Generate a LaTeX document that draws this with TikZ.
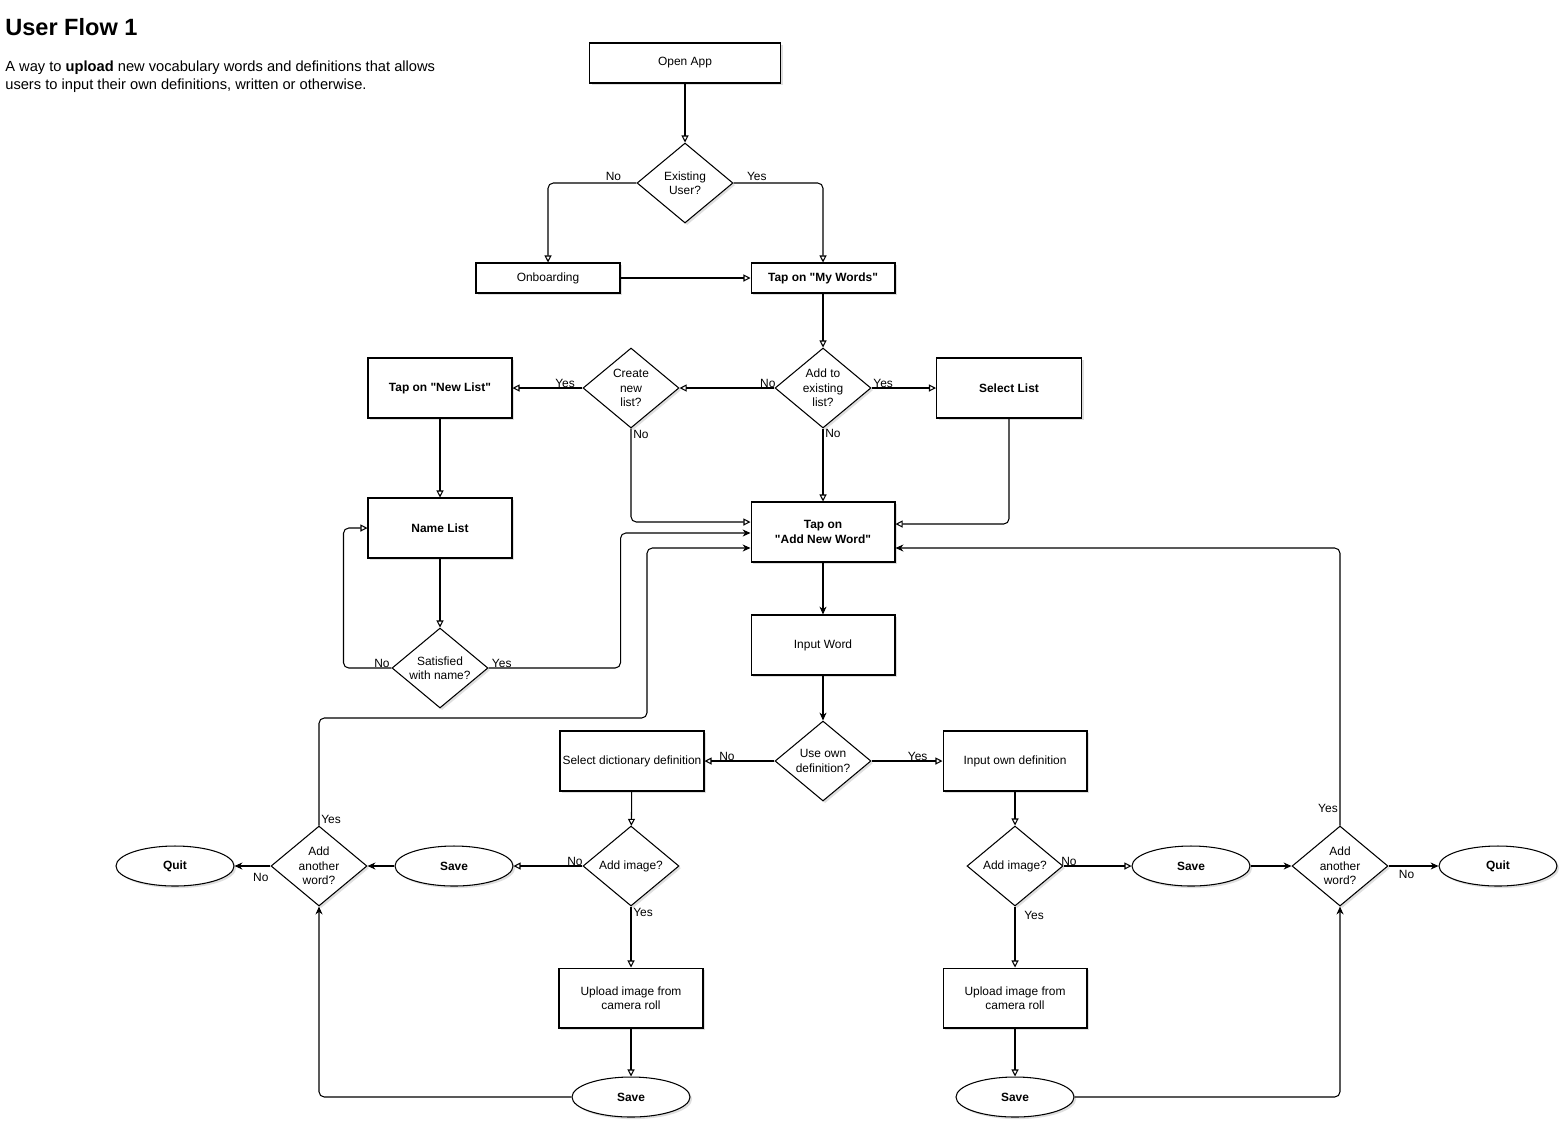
\documentclass[tikz,border=0pt]{standalone}
\usepackage{fontspec}
\setmainfont{Liberation Sans}[Ligatures=TeXOff]
\usetikzlibrary{arrows.meta, shapes.geometric, shadows, calc}

\newcommand{\nodefont}{\fontsize{6.8}{8.2}\selectfont}

\begin{document}
\begin{tikzpicture}[
  x=0.02cm, y=-0.02cm,
  shadowed/.style={drop shadow={shadow xshift=1.2pt, shadow yshift=-1.2pt, opacity=0.25}},
  box/.style={draw, line width=0.6pt, fill=white, shadowed, minimum width=2.88cm, minimum height=1.2cm, inner sep=1pt, align=center, font=\nodefont},
  bold box/.style={box, font=\nodefont\bfseries},
  thin box/.style={box, minimum height=0.6cm},
  dec/.style={draw, diamond, aspect=1.2, line width=0.6pt, fill=white, shadowed, minimum width=1.92cm, minimum height=1.6cm, inner sep=0pt, align=center, font=\nodefont},
  term/.style={draw, ellipse, line width=0.6pt, fill=white, shadowed, minimum width=2.36cm, minimum height=0.8cm, font=\nodefont\bfseries},
  lbl/.style={font=\nodefont, inner sep=1pt},
  arr/.style={draw, line width=0.6pt, rounded corners=3pt, -{Triangle[open, length=4pt, width=4pt]}},
  arrf/.style={draw, line width=0.6pt, rounded corners=3pt, -{Stealth[length=4.5pt, width=4pt]}}
]
\fill[white] (0,0) rectangle (1567,1130);
\useasboundingbox (0,0) rectangle (1567,1130);

% heading
\node[anchor=north west, inner sep=0pt, font=\fontsize{13.4}{16}\selectfont\bfseries] (title) at (5,18) {User Flow 1};
\node[anchor=north west, inner sep=0pt, align=left, font=\fontsize{8.35}{10.2}\selectfont] (intro) at (5,61)
  {A way to \textbf{upload} new vocabulary words and definitions that allows\\users to input their own definitions, written or otherwise.};

% top part
\node[box, minimum width=3.82cm, minimum height=0.8cm] (open) at (685,63) {Open App};
\node[dec] (exist) at (685,183) {Existing\\User?};
\node[thin box] (onboard) at (548,278) {Onboarding};
\node[thin box, font=\nodefont\bfseries] (mywords) at (823,278) {Tap on "My Words"};
\node[dec] (addto) at (823,388) {Add to\\existing\\list?};
\node[dec] (create) at (631,388) {Create\\new\\list?};
\node[bold box] (newlist) at (440,388) {Tap on "New List"};
\node[bold box, minimum width=2.9cm] (selectlist) at (1009,388) {Select List};
\node[bold box] (namelist) at (440,528) {Name List};
\node[dec] (satisfied) at (440,668) {Satisfied\\with name?};
\node[bold box] (addword) at (823,532) {Tap on\\"Add New Word"};
\node[box] (inputword) at (823,645) {Input Word};
\node[dec] (useown) at (823,761) {Use own\\definition?};
\node[box] (selectdict) at (632,761) {Select dictionary definition};
\node[box] (inputown) at (1015,761) {Input own definition};

% bottom part
\node[dec] (imgleft) at (631,866) {Add image?};
\node[dec] (imgright) at (1015,866) {Add image?};
\node[term] (saveleft) at (454,866) {Save};
\node[term] (saveright) at (1191,866) {Save};
\node[dec] (moreleft) at (319,866) {Add\\another\\word?};
\node[dec] (moreright) at (1340,866) {Add\\another\\word?};
\node[term] (quitleft) at (175,866) {Quit};
\node[term] (quitright) at (1498,866) {Quit};
\node[box] (uploadleft) at (631,998) {Upload image from\\camera roll};
\node[box] (uploadright) at (1015,998) {Upload image from\\camera roll};
\node[term] (storeleft) at (631,1097) {Save};
\node[term] (storeright) at (1015,1097) {Save};
\coordinate (loopleft) at (647,718);

\draw[arr] (open) -- (exist);
\draw[arr] (exist.west) -| node[lbl, pos=0.13, above] {No} (onboard.north);
\draw[arr] (exist.east) -| node[lbl, pos=0.13, above] {Yes} (mywords.north);
\draw[arr] (onboard) -- (mywords);
\draw[arr] (mywords) -- (addto);
\draw[arr] (addto.west) -- node[lbl, pos=0.07, above=-1pt] {No} (create.east);
\draw[arr] (addto.east) -- node[lbl, pos=0.18, above=-1pt] {Yes} (selectlist.west);
\draw[arr] (addto.south) -- node[lbl, pos=0.07, right] {No} (addword.north);
\draw[arr] (create.west) -- node[lbl, pos=0.25, above=-1pt] {Yes} (newlist.east);
\draw[arr] (create.south) |- node[lbl, pos=0.03, right] {No} ($(addword.west)+(0,-10)$);
\draw[arr] (selectlist.south) |- ($(addword.east)+(0,-8)$);
\draw[arr] (newlist) -- (namelist);
\draw[arr] (namelist) -- (satisfied);
\draw[arr] (satisfied.west) -- node[lbl, pos=0.2, above=-1pt] {No} ++(-48,0) |- (namelist.west);
\draw[arrf] (satisfied.east) -- node[lbl, pos=0.1, above=-1pt] {Yes} ++(132,0) |- ($(addword.west)+(0,1)$);
\draw[arrf] (moreleft.north) |- node[lbl, pos=0.03, right] {Yes} (loopleft) |- ($(addword.west)+(0,16)$);
\draw[arrf] (moreright.north) |- node[lbl, pos=0.03, left] {Yes} ($(addword.east)+(0,16)$);
\draw[arrf] (addword) -- (inputword);
\draw[arrf] (inputword) -- (useown);
\draw[arr] (useown.west) -- node[lbl, pos=0.68, above=-1pt] {No} (selectdict.east);
\draw[arr] (useown.east) -- node[lbl, pos=0.65, above=-1pt] {Yes} (inputown.west);
\draw[arr] (selectdict) -- (imgleft);
\draw[arr] (inputown) -- (imgright);
\draw[arr] (imgleft.west) -- node[lbl, pos=0.11, above=-1pt] {No} (saveleft.east);
\draw[arr] (imgleft.south) -- node[lbl, pos=0.1, right] {Yes} (uploadleft.north);
\draw[arr] (uploadleft) -- (storeleft);
\draw[arrf] (saveleft) -- (moreleft);
\draw[arrf] (moreleft.west) -- node[lbl, pos=0.27, below=3pt] {No} (quitleft.east);
\draw[arrf] (storeleft.west) -| (moreleft.south);
\draw[arr] (imgright.east) -- node[lbl, pos=0.08, above=-1pt] {No} (saveright.west);
\draw[arr] (imgright.south) -- node[lbl, pos=0.15, right=4pt] {Yes} (uploadright.north);
\draw[arr] (uploadright) -- (storeright);
\draw[arrf] (saveright) -- (moreright);
\draw[arrf] (moreright.east) -- node[lbl, pos=0.36, below=1pt] {No} (quitright.west);
\draw[arrf] (storeright.east) -| (moreright.south);
\end{tikzpicture}
\end{document}
